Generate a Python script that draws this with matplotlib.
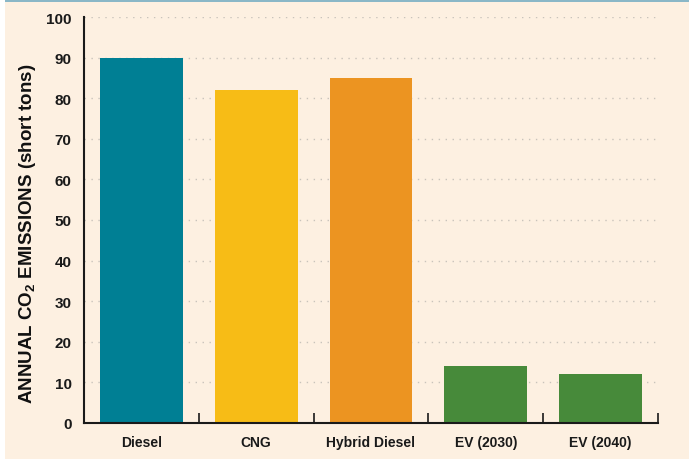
import matplotlib
matplotlib.use("Agg")
import matplotlib.pyplot as plt
from matplotlib.patches import Rectangle
from matplotlib.ticker import FixedLocator

categories = ["Diesel", "CNG", "Hybrid Diesel", "EV (2030)", "EV (2040)"]
emissions = [90, 82, 85, 14, 12]
bar_colors = ["#007F94", "#F7BC16", "#EC9421", "#478A3A", "#478A3A"]
y_ticks = [0, 10, 20, 30, 40, 50, 60, 70, 80, 90, 100]

BG = "#FDF0E1"

plt.rcParams["font.family"] = ["Liberation Sans", "DejaVu Sans"]
plt.rcParams["mathtext.fontset"] = "custom"
plt.rcParams["mathtext.rm"] = "Liberation Sans:bold"

fig = plt.figure(figsize=(6.93, 4.60), dpi=100, facecolor="white")
fig.patches.append(Rectangle((5 / 693, 0), 684 / 693, 1, transform=fig.transFigure,
                             facecolor=BG, edgecolor="none", zorder=-2))
fig.patches.append(Rectangle((5 / 693, 1 - 2.5 / 460), 684 / 693, 2.5 / 460,
                             transform=fig.transFigure, facecolor="#8AB7C7",
                             edgecolor="none", zorder=-1))

ax = fig.add_axes([84 / 693, 1 - 424 / 460, 574 / 693, 406 / 460])
ax.set_facecolor("none")

x = range(len(categories))
ax.bar(x, emissions, width=0.72, color=bar_colors, zorder=3)

ax.set_xlim(-0.5, len(categories) - 0.5)
ax.set_ylim(0, 100)
ax.set_yticks(y_ticks)
ax.set_xticks(list(x))
ax.set_xticklabels(categories, fontsize=10, fontweight="bold", color="#1a1a1a")
ax.xaxis.set_minor_locator(FixedLocator([i + 0.5 for i in x]))
ax.tick_params(axis="x", which="major", length=0, pad=9)
ax.tick_params(axis="x", which="minor", direction="in", length=7, width=1.2, color="#1a1a1a")
ax.tick_params(axis="y", length=0, pad=9, labelsize=11, labelcolor="#1a1a1a")
for lab in ax.get_yticklabels():
    lab.set_fontweight("bold")

ax.grid(axis="y", linestyle=(0, (1, 4)), color="#c9c3bb", linewidth=1, zorder=1)

for side in ["top", "right"]:
    ax.spines[side].set_visible(False)
for side in ["left", "bottom"]:
    ax.spines[side].set_linewidth(1.5)
    ax.spines[side].set_color("#1a1a1a")
    ax.spines[side].set_zorder(4)

ax.set_ylabel(r"ANNUAL CO$_\mathregular{2}$ EMISSIONS (short tons)", fontsize=13.5,
              fontweight="bold", color="#111111")
ax.yaxis.set_label_coords(-0.080, 0.468)

fig.savefig("out.png", dpi=100, facecolor=fig.get_facecolor())
